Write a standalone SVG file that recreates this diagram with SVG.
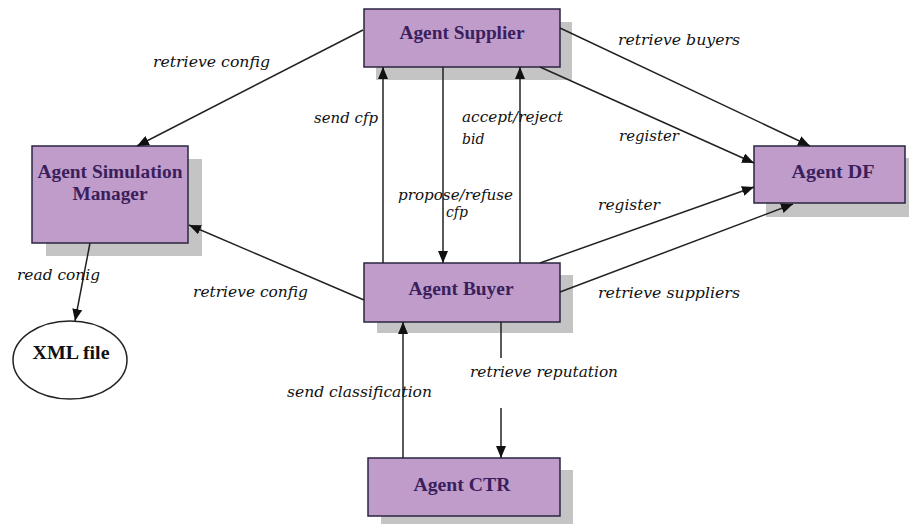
<svg xmlns="http://www.w3.org/2000/svg" width="909" height="526" viewBox="0 0 909 526">
<defs>
<style>
.shadow{fill:#c4c4c4}
.box{fill:#c09ccb;stroke:#2a2440;stroke-width:1.5}
.nt{font-family:"Liberation Serif","Times New Roman",serif;font-weight:bold;font-size:18px;fill:#3a1f5c;text-anchor:middle}
.lb{font-family:"DejaVu Serif","Liberation Serif",serif;font-style:italic;font-size:14px;fill:#111}
.ln{fill:none;stroke:#222;stroke-width:1.5}
</style>
<marker id="ah" viewBox="0 0 12 10" refX="12" refY="5" markerWidth="12" markerHeight="10" markerUnits="userSpaceOnUse" orient="auto">
<path d="M0,0 L12,5 L0,10 Z" fill="#111"/>
</marker>
</defs>
<rect width="909" height="526" fill="#fff"/>

<g id="agent-supplier">
<rect class="shadow" x="376" y="22" width="196" height="58"/>
<rect class="box" x="364" y="9" width="196" height="58"/>
<text class="nt" x="462" y="39" textLength="125" lengthAdjust="spacingAndGlyphs">Agent Supplier</text>
</g>

<g id="agent-simulation-manager">
<rect class="shadow" x="46" y="159" width="156" height="97"/>
<rect class="box" x="32" y="146" width="156" height="97"/>
<text class="nt" x="110" y="178" textLength="145" lengthAdjust="spacingAndGlyphs">Agent Simulation</text>
<text class="nt" x="110" y="200" textLength="75" lengthAdjust="spacingAndGlyphs">Manager</text>
</g>

<g id="agent-df">
<rect class="shadow" x="766" y="158" width="143" height="59"/>
<rect class="box" x="754" y="146" width="151" height="57"/>
<text class="nt" x="833" y="178" textLength="83" lengthAdjust="spacingAndGlyphs">Agent DF</text>
</g>

<g id="agent-buyer">
<rect class="shadow" x="377" y="275" width="196" height="58"/>
<rect class="box" x="364" y="263" width="196" height="59"/>
<text class="nt" x="461" y="295" textLength="105" lengthAdjust="spacingAndGlyphs">Agent Buyer</text>
</g>

<g id="agent-ctr">
<rect class="shadow" x="381" y="470" width="192" height="54"/>
<rect class="box" x="368" y="458" width="192" height="58"/>
<text class="nt" x="462" y="491" textLength="97" lengthAdjust="spacingAndGlyphs">Agent CTR</text>
</g>

<g id="xml-file">
<ellipse cx="70" cy="360" rx="57" ry="39" fill="#fff" stroke="#222" stroke-width="1.5"/>
<text x="71" y="359" font-family="Liberation Serif, serif" font-weight="bold" font-size="18" fill="#111" text-anchor="middle" textLength="77" lengthAdjust="spacingAndGlyphs">XML file</text>
</g>

<g id="connectors">
<line class="ln" x1="363" y1="30" x2="137" y2="146" marker-end="url(#ah)"/>
<line class="ln" x1="364" y1="300" x2="189" y2="225" marker-end="url(#ah)"/>
<line class="ln" x1="90" y1="243" x2="75" y2="321" marker-end="url(#ah)"/>
<line class="ln" x1="383" y1="263" x2="383" y2="67" marker-end="url(#ah)"/>
<line class="ln" x1="443" y1="67" x2="443" y2="263" marker-end="url(#ah)"/>
<line class="ln" x1="520" y1="263" x2="520" y2="67" marker-end="url(#ah)"/>
<line class="ln" x1="560" y1="28" x2="810" y2="146" marker-end="url(#ah)"/>
<line class="ln" x1="540" y1="67" x2="754" y2="163" marker-end="url(#ah)"/>
<line class="ln" x1="540" y1="263" x2="754" y2="187" marker-end="url(#ah)"/>
<line class="ln" x1="560" y1="292" x2="793" y2="204" marker-end="url(#ah)"/>
<line class="ln" x1="403" y1="458" x2="403" y2="322" marker-end="url(#ah)"/>
<line class="ln" x1="501" y1="322" x2="501" y2="358"/>
<line class="ln" x1="501" y1="408" x2="501" y2="458" marker-end="url(#ah)"/>
</g>

<g id="labels">
<text class="lb" x="153" y="67" textLength="117" lengthAdjust="spacingAndGlyphs">retrieve config</text>
<text class="lb" x="314" y="123" textLength="64" lengthAdjust="spacingAndGlyphs">send cfp</text>
<text class="lb" x="462" y="122" textLength="101" lengthAdjust="spacingAndGlyphs">accept/reject</text>
<text class="lb" x="462" y="144">bid</text>
<text class="lb" x="398" y="200" textLength="115" lengthAdjust="spacingAndGlyphs">propose/refuse</text>
<text class="lb" x="446" y="217">cfp</text>
<text class="lb" x="618" y="45" textLength="122" lengthAdjust="spacingAndGlyphs">retrieve  buyers</text>
<text class="lb" x="619" y="141" textLength="60" lengthAdjust="spacingAndGlyphs">register</text>
<text class="lb" x="598" y="210" textLength="62" lengthAdjust="spacingAndGlyphs">register</text>
<text class="lb" x="598" y="298" textLength="142" lengthAdjust="spacingAndGlyphs">retrieve  suppliers</text>
<text class="lb" x="193" y="297" textLength="115" lengthAdjust="spacingAndGlyphs">retrieve config</text>
<text class="lb" x="17" y="280" textLength="83" lengthAdjust="spacingAndGlyphs">read conig</text>
<text class="lb" x="287" y="397" textLength="145" lengthAdjust="spacingAndGlyphs">send classification</text>
<text class="lb" x="470" y="377" textLength="148" lengthAdjust="spacingAndGlyphs">retrieve reputation</text>
</g>
</svg>
